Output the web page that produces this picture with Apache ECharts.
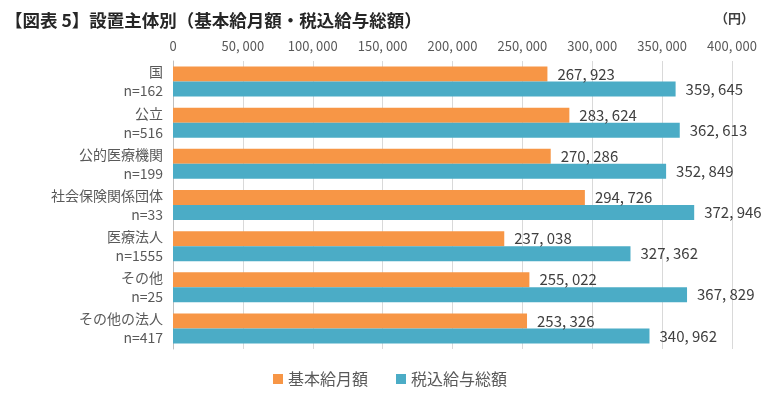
<!DOCTYPE html>
<html>
<head>
<meta charset="utf-8">
<script src="https://cdn.jsdelivr.net/npm/echarts@6/dist/echarts.min.js"></script>
<style>
  html, body { margin: 0; padding: 0; background: #fff; }
  #chart { width: 780px; height: 398px; }
</style>
</head>
<body>
<div id="chart"></div>
<script>
// categories (top to bottom) and sample sizes
const categories = ['国', '公立', '公的医療機関', '社会保険関係団体', '医療法人', 'その他', 'その他の法人'];
const sampleSizes = ['n=162', 'n=516', 'n=199', 'n=33', 'n=1555', 'n=25', 'n=417'];

// values in yen
const basicMonthly = [267923, 283624, 270286, 294726, 237038, 255022, 253326];
const totalPay = [359645, 362613, 352849, 372946, 327362, 367829, 340962];

const seriesNames = ['基本給月額', '税込給与総額'];

const font = '"Noto Sans CJK JP", "Noto Sans", sans-serif';
const fmt = (v) => String(v).replace(/\B(?=(\d{3})+(?!\d))/g, ', ');

const chart = echarts.init(document.getElementById('chart'));

chart.setOption({
  animation: false,
  textStyle: { fontFamily: font },
  title: {
    text: '【図表 5】設置主体別（基本給月額・税込給与総額）',
    left: 0,
    top: 7,
    textStyle: { fontSize: 17.5, fontWeight: 'bold', color: '#262626', fontFamily: font }
  },
  graphic: [{
    type: 'text',
    right: 26,
    top: 12,
    style: { text: '（円）', fontSize: 13, fill: '#404040', fontFamily: font, fontWeight: 'bold' }
  }],
  legend: {
    bottom: 6,
    left: 'center',
    itemWidth: 10,
    itemHeight: 10,
    itemGap: 28,
    icon: 'rect',
    textStyle: { fontSize: 16, color: '#595959', fontFamily: font },
    data: seriesNames
  },
  grid: { left: 173, right: 48, top: 61, bottom: 49 },
  xAxis: {
    type: 'value',
    position: 'top',
    min: 0,
    max: 400000,
    interval: 50000,
    axisLine: { show: false },
    axisTick: { show: false },
    axisLabel: { formatter: fmt, fontSize: 13, color: '#595959', margin: 8 },
    splitLine: { lineStyle: { color: '#d9d9d9' } }
  },
  yAxis: {
    type: 'category',
    inverse: true,
    data: categories,
    axisLine: { lineStyle: { color: '#bfbfbf' } },
    axisTick: { length: 5, lineStyle: { color: '#bfbfbf' } },
    axisLabel: {
      interval: 0,
      hideOverlap: false,
      fontSize: 14,
      color: '#595959',
      lineHeight: 19,
      margin: 10,
      align: 'right',
      formatter: (v, i) => v + '\n' + sampleSizes[i]
    }
  },
  series: [
    {
      name: seriesNames[0],
      type: 'bar',
      data: basicMonthly,
      barGap: '0%',
      barCategoryGap: '27%',
      itemStyle: { color: '#F79646' },
      label: {
        show: true, position: 'right', distance: 10,
        formatter: (p) => fmt(p.value),
        fontSize: 15, color: '#404040', fontFamily: font
      }
    },
    {
      name: seriesNames[1],
      type: 'bar',
      data: totalPay,
      itemStyle: { color: '#4BACC6' },
      label: {
        show: true, position: 'right', distance: 10,
        formatter: (p) => fmt(p.value),
        fontSize: 15, color: '#404040', fontFamily: font
      }
    }
  ]
});
</script>
</body>
</html>
